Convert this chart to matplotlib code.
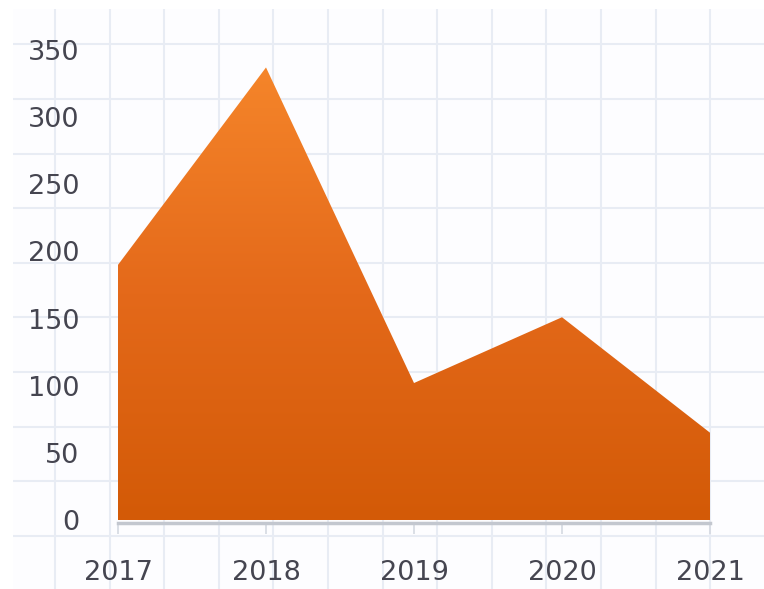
import numpy as np
import matplotlib.pyplot as plt
from matplotlib.colors import LinearSegmentedColormap
from matplotlib.patches import Rectangle

# data
years = [2017, 2018, 2019, 2020, 2021]
values = [190, 337, 102, 151, 65]
y_ticks = [0, 50, 100, 150, 200, 250, 300, 350]

W, H = 764, 589
fig = plt.figure(figsize=(W / 100, H / 100), dpi=100)
fig.patch.set_facecolor('white')

# graph paper behind the chart (pixel units)
bg = fig.add_axes([0, 0, 1, 1], zorder=0)
bg.set_xlim(0, W)
bg.set_ylim(H, 0)
bg.axis('off')
bg.add_patch(Rectangle((13, 9), W - 13, H - 9, facecolor='#fdfdff', edgecolor='none'))
step = 54.6
for gx in np.arange(55, W, step):
	bg.plot([gx, gx], [9, H], color='#e8ecf4', lw=1.5, solid_capstyle='butt')
for gy in np.arange(44.3, H, step):
	bg.plot([13, W], [gy, gy], color='#e8ecf4', lw=1.5, solid_capstyle='butt')

# chart axes
left, right = 118 / W, 710 / W
bottom, top = (H - 520) / H, (H - 50) / H
ax = fig.add_axes([left, bottom, right - left, top - bottom], zorder=1)
ax.patch.set_alpha(0)
ax.set_xlim(years[0], years[-1])
ax.set_ylim(0, 350)

poly = ax.fill_between(years, values, 0, color='none', lw=0)
cmap = LinearSegmentedColormap.from_list('org', ['#d35a07', '#e4691a', '#f5852a'])
grad = np.linspace(0, 1, 256).reshape(-1, 1)
img = ax.imshow(grad, cmap=cmap, origin='lower', aspect='auto',
				extent=[years[0], years[-1], 0, max(values)], zorder=2)
img.set_clip_path(poly.get_paths()[0], transform=ax.transData)
ax.set_xlim(years[0], years[-1])
ax.set_ylim(0, 350)

for s in ['top', 'right', 'left']:
	ax.spines[s].set_visible(False)
ax.spines['bottom'].set_position(('outward', 2))
ax.spines['bottom'].set_color('#c3c7cf')
ax.spines['bottom'].set_linewidth(2.5)
ax.spines['bottom'].set_zorder(3)

ax.set_xticks(years)
ax.set_xticklabels([str(y) for y in years])
ax.set_yticks(y_ticks)
ax.set_yticklabels([str(v) for v in y_ticks])
ax.tick_params(axis='x', direction='out', length=8, width=1.2, color='#d5d9e1',
			   pad=19, labelsize=19.5, labelcolor='#454550')
ax.tick_params(axis='y', length=0, pad=28, labelsize=19.5, labelcolor='#454550')
for lab in ax.get_xticklabels() + ax.get_yticklabels():
	lab.set_family('DejaVu Sans')

fig.savefig('out.png', dpi=100)
